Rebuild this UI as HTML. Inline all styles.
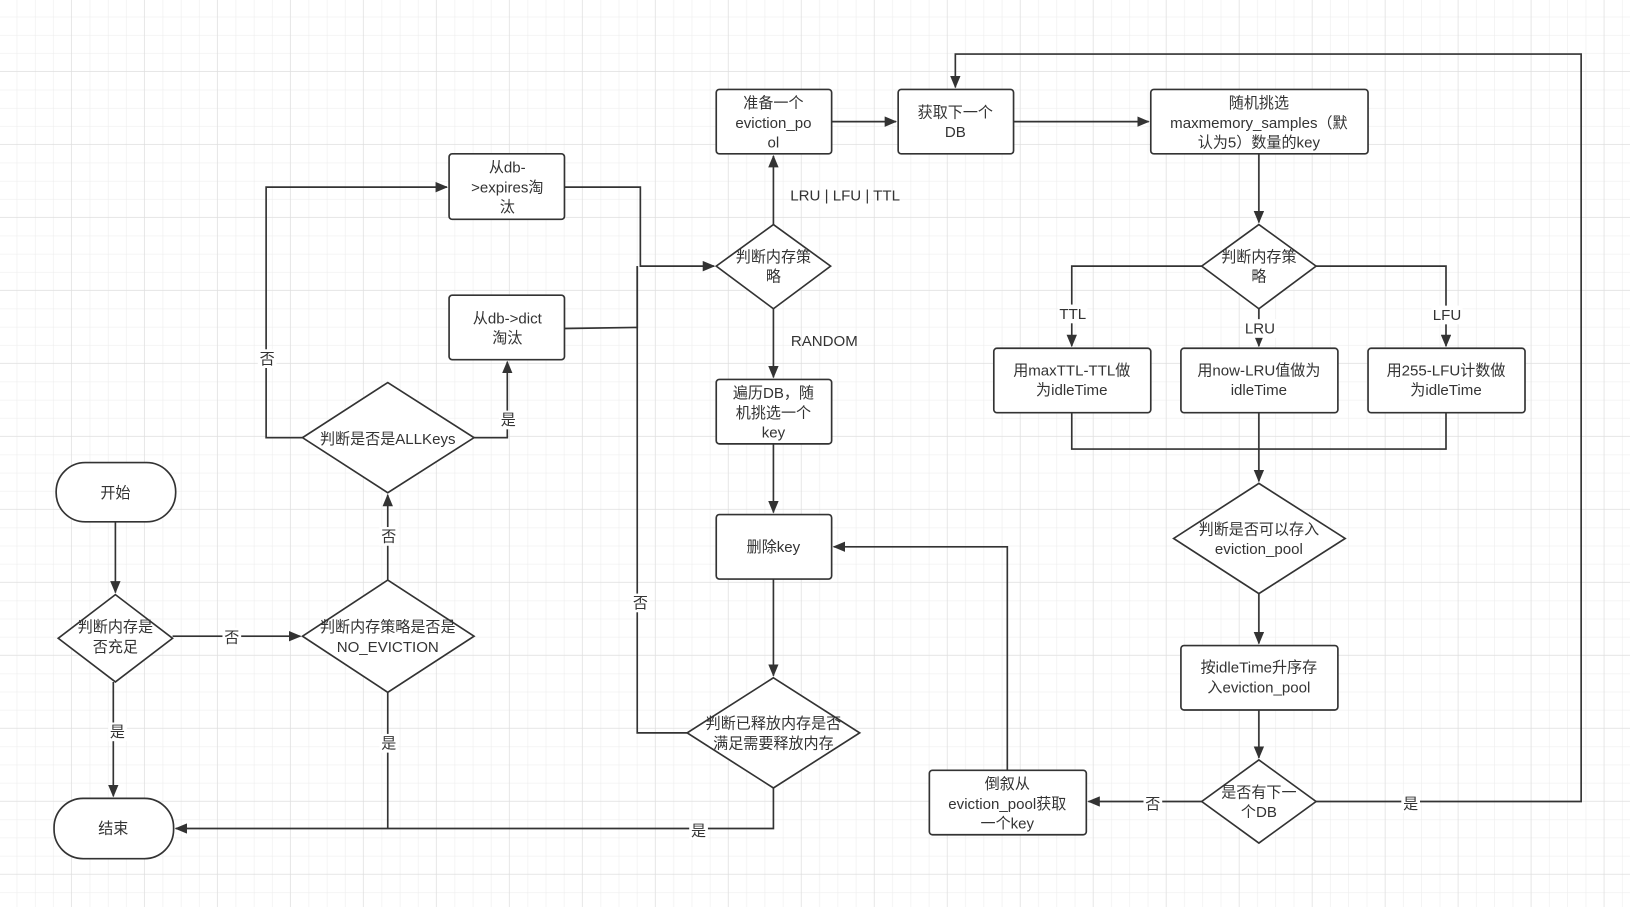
<!DOCTYPE html>
<html><head><meta charset="utf-8"><style>
html,body{margin:0;padding:0;background:#fff;}
svg{display:block;}
text{font-family:"Liberation Sans","Noto Sans CJK SC",sans-serif;font-size:14.5px;fill:#333;text-anchor:middle;}
.s{fill:#fff;stroke:#333;stroke-width:1.6;}
.l{fill:none;stroke:#333;stroke-width:1.6;}
.lb{fill:#fff;}
</style></head><body>
<svg width="1630" height="907" viewBox="0 0 1568 872.5" xmlns="http://www.w3.org/2000/svg">
<defs>
<pattern id="gm" width="17.55" height="17.55" patternUnits="userSpaceOnUse"><path d="M17.55 0V17.55H0" fill="none" stroke="#ebebeb" stroke-width="1"/></pattern>
<pattern id="gM" width="70.2" height="70.2" patternUnits="userSpaceOnUse" x="-1" y="-1"><rect width="70.2" height="70.2" fill="url(#gm)"/><path d="M70.2 0V70.2H0" fill="none" stroke="#dedede" stroke-width="1.4"/></pattern>
<marker id="a" markerWidth="12" markerHeight="10" refX="11" refY="5" orient="auto" markerUnits="userSpaceOnUse"><path d="M0 0L12 5L0 10z" fill="#333"/></marker>
</defs>
<rect width="1568" height="872.5" fill="url(#gM)"/>

<path class="l" d="M111 502V570" marker-end="url(#a)"/>
<path class="l" d="M109 656V766" marker-end="url(#a)"/>
<path class="l" d="M166 612H289" marker-end="url(#a)"/>
<path class="l" d="M373 558V476" marker-end="url(#a)"/>
<path class="l" d="M373 666V797"/>
<path class="l" d="M744 758V797H169" marker-end="url(#a)"/>
<path class="l" d="M291 421H256V180H430" marker-end="url(#a)"/>
<path class="l" d="M456 421H488V348" marker-end="url(#a)"/>
<path class="l" d="M543 180H616V256H687" marker-end="url(#a)"/>
<path class="l" d="M543 316L613 315V256"/>
<path class="l" d="M661 705H613V256"/>
<path class="l" d="M744 216V150" marker-end="url(#a)"/>
<path class="l" d="M744 297V363" marker-end="url(#a)"/>
<path class="l" d="M744 427V493" marker-end="url(#a)"/>
<path class="l" d="M744 557V650" marker-end="url(#a)"/>
<path class="l" d="M800 117H862" marker-end="url(#a)"/>
<path class="l" d="M975 117H1105" marker-end="url(#a)"/>
<path class="l" d="M1211 148V214" marker-end="url(#a)"/>
<path class="l" d="M1156 256H1031V333" marker-end="url(#a)"/>
<path class="l" d="M1211 297V333" marker-end="url(#a)"/>
<path class="l" d="M1266 256H1391V333" marker-end="url(#a)"/>
<path class="l" d="M1031 397V432H1391V397M1211 397V463" marker-end="url(#a)"/>
<path class="l" d="M1211 571V619" marker-end="url(#a)"/>
<path class="l" d="M1211 683V729" marker-end="url(#a)"/>
<path class="l" d="M1156 771H1047" marker-end="url(#a)"/>
<path class="l" d="M1266 771H1521V52H919V84" marker-end="url(#a)"/>
<path class="l" d="M969 741V526H802" marker-end="url(#a)"/>

<rect class="lb" x="104" y="695" width="18" height="18"/><text x="113" y="709">是</text>
<rect class="lb" x="214" y="604" width="18" height="18"/><text x="223" y="618">否</text>
<rect class="lb" x="365" y="507" width="18" height="18"/><text x="374" y="521">否</text>
<rect class="lb" x="365" y="706" width="18" height="18"/><text x="374" y="720">是</text>
<rect class="lb" x="663" y="790" width="18" height="18"/><text x="672" y="804">是</text>
<rect class="lb" x="248" y="336" width="18" height="18"/><text x="257" y="350">否</text>
<rect class="lb" x="480" y="395" width="18" height="18"/><text x="489" y="409">是</text>
<rect class="lb" x="607" y="571" width="18" height="18"/><text x="616" y="585">否</text>
<text x="813" y="193">LRU | LFU | TTL</text>
<text x="793" y="333">RANDOM</text>
<rect class="lb" x="1018" y="293" width="28" height="18"/><text x="1032" y="307">TTL</text>
<rect class="lb" x="1196" y="307" width="32" height="18"/><text x="1212" y="321">LRU</text>
<rect class="lb" x="1377" y="294" width="30" height="18"/><text x="1392" y="308">LFU</text>
<rect class="lb" x="1100" y="764" width="18" height="18"/><text x="1109" y="778">否</text>
<rect class="lb" x="1348" y="764" width="18" height="18"/><text x="1357" y="778">是</text>

<rect class="s" x="54" y="445" width="115" height="57" rx="28"/><text x="111" y="479">开始</text>
<rect class="s" x="52" y="768" width="115" height="58" rx="28"/><text x="109" y="802">结束</text>
<path class="s" d="M111 572L166 614L111 656L56 614z"/><text x="111" y="608">判断内存是</text><text x="111" y="627">否充足</text>
<path class="s" d="M373 558L456 612L373 666L291 612z"/><text x="373" y="608">判断内存策略是否是</text><text x="373" y="627">NO_EVICTION</text>
<path class="s" d="M373 368L456 421L373 474L291 421z"/><text x="373" y="427">判断是否是ALLKeys</text>
<rect class="s" x="432" y="148" width="111" height="63" rx="3"/><text x="488" y="166">从db-</text><text x="488" y="185">&gt;expires淘</text><text x="488" y="204">汰</text>
<rect class="s" x="432" y="284" width="111" height="62" rx="3"/><text x="488" y="311">从db-&gt;dict</text><text x="488" y="330">淘汰</text>
<path class="s" d="M744 216L799 256L744 297L689 256z"/><text x="744" y="252">判断内存策</text><text x="744" y="271">略</text>
<rect class="s" x="689" y="86" width="111" height="62" rx="3"/><text x="744" y="104">准备一个</text><text x="744" y="123">eviction_po</text><text x="744" y="142">ol</text>
<rect class="s" x="864" y="86" width="111" height="62" rx="3"/><text x="919" y="113">获取下一个</text><text x="919" y="132">DB</text>
<rect class="s" x="1107" y="86" width="209" height="62" rx="3"/><text x="1211" y="104">随机挑选</text><text x="1211" y="123">maxmemory_samples（默</text><text x="1211" y="142">认为5）数量的key</text>
<rect class="s" x="689" y="365" width="111" height="62" rx="3"/><text x="744" y="383">遍历DB，随</text><text x="744" y="402">机挑选一个</text><text x="744" y="421">key</text>
<rect class="s" x="689" y="495" width="111" height="62" rx="3"/><text x="744" y="531">删除key</text>
<path class="s" d="M744 652L827 705L744 758L661 705z"/><text x="744" y="701">判断已释放内存是否</text><text x="744" y="720">满足需要释放内存</text>
<rect class="s" x="894" y="741" width="151" height="62" rx="3"/><text x="969" y="759">倒叙从</text><text x="969" y="778">eviction_pool获取</text><text x="969" y="797">一个key</text>
<path class="s" d="M1211 731L1266 771L1211 811L1156 771z"/><text x="1211" y="767">是否有下一</text><text x="1211" y="786">个DB</text>
<rect class="s" x="1136" y="621" width="151" height="62" rx="3"/><text x="1211" y="647">按idleTime升序存</text><text x="1211" y="666">入eviction_pool</text>
<path class="s" d="M1211 465L1294 518L1211 571L1129 518z"/><text x="1211" y="514">判断是否可以存入</text><text x="1211" y="533">eviction_pool</text>
<rect class="s" x="956" y="335" width="151" height="62" rx="3"/><text x="1031" y="361">用maxTTL-TTL做</text><text x="1031" y="380">为idleTime</text>
<rect class="s" x="1136" y="335" width="151" height="62" rx="3"/><text x="1211" y="361">用now-LRU值做为</text><text x="1211" y="380">idleTime</text>
<rect class="s" x="1316" y="335" width="151" height="62" rx="3"/><text x="1391" y="361">用255-LFU计数做</text><text x="1391" y="380">为idleTime</text>
<path class="s" d="M1211 216L1266 256L1211 297L1156 256z"/><text x="1211" y="252">判断内存策</text><text x="1211" y="271">略</text>
</svg>
</body></html>
